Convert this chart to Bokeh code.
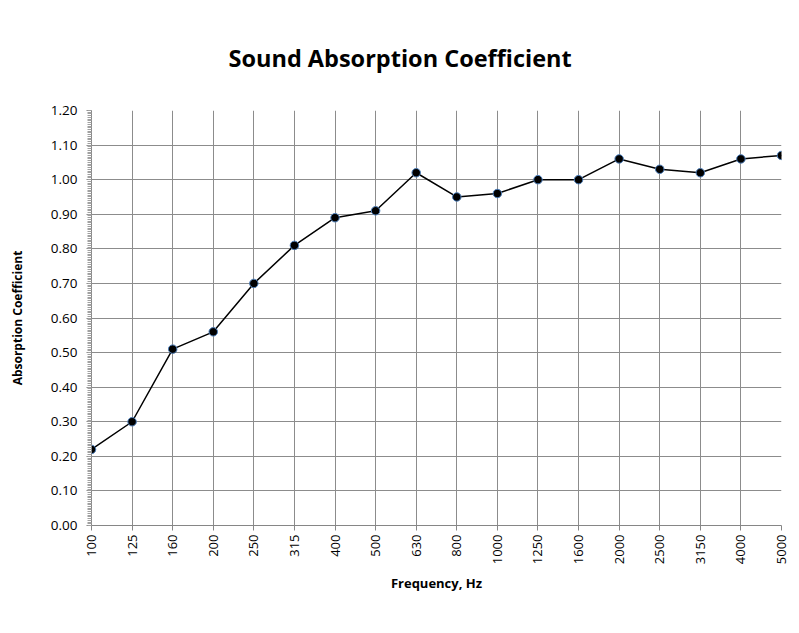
from bokeh.plotting import figure
from bokeh.models import Range1d, FixedTicker, ColumnDataSource, NumeralTickFormatter
from bokeh.embed import file_html
from bokeh.resources import INLINE
import math

frequencies = ["100", "125", "160", "200", "250", "315", "400", "500", "630", "800",
               "1000", "1250", "1600", "2000", "2500", "3150", "4000", "5000"]
coefficients = [0.22, 0.30, 0.51, 0.56, 0.70, 0.81, 0.89, 0.91, 1.02, 0.95,
                0.96, 1.00, 1.00, 1.06, 1.03, 1.02, 1.06, 1.07]
y_ticks = [0.0, 0.1, 0.2, 0.3, 0.4, 0.5, 0.6, 0.7, 0.8, 0.9, 1.0, 1.1, 1.2]

idx = list(range(len(frequencies)))
src = ColumnDataSource(dict(x=idx, y=coefficients))

FONT = "Open Sans"

p = figure(width=791, height=625, output_backend="svg", toolbar_location=None,
           x_range=Range1d(0, len(frequencies) - 1), y_range=Range1d(0, 1.2),
           title="Sound Absorption Coefficient",
           min_border_left=91, min_border_right=10, min_border_top=110, min_border_bottom=100)
p.outline_line_color = None
p.background_fill_color = "white"
p.border_fill_color = "white"

p.title.align = "left"
p.title.text_font = FONT
p.title.text_font_style = "bold"
p.title.text_font_size = "23.5px"
p.title.text_color = "black"
p.title.standoff = 74
p.title.offset = 137

p.line("x", "y", source=src, line_color="black", line_width=1.5)
p.scatter("x", "y", source=src, size=8.5, fill_color="black", line_color="#4f81bd", line_width=1)

xa = p.xaxis[0]
xa.ticker = FixedTicker(ticks=idx)
xa.major_label_overrides = {i: f for i, f in zip(idx, frequencies)}
xa.major_label_orientation = math.pi / 2
xa.major_label_text_font = FONT
xa.major_label_text_font_size = "13px"
xa.major_label_text_color = "black"
xa.major_label_standoff = 4
xa.axis_label = "Frequency, Hz"
xa.axis_label_text_font = FONT
xa.axis_label_text_font_style = "bold"
xa.axis_label_text_font_size = "13px"
xa.axis_label_text_color = "black"
xa.axis_label_standoff = 7
xa.axis_line_color = "#868686"
xa.major_tick_line_color = "#868686"
xa.major_tick_out = 5
xa.major_tick_in = 0
xa.minor_tick_line_color = None

ya = p.yaxis[0]
ya.ticker = FixedTicker(ticks=y_ticks, minor_ticks=[i * 0.005 for i in range(241)])
ya.formatter = NumeralTickFormatter(format="0.00")
ya.major_label_text_font = FONT
ya.major_label_text_font_size = "13.5px"
ya.major_label_text_color = "black"
ya.major_label_standoff = 9
ya.axis_label = "Absorption Coefficient"
ya.axis_label_text_font = FONT
ya.axis_label_text_font_style = "bold"
ya.axis_label_text_font_size = "12px"
ya.axis_label_text_color = "black"
ya.axis_label_standoff = 22
ya.axis_line_color = "#868686"
ya.major_tick_line_color = "#868686"
ya.major_tick_out = 5
ya.major_tick_in = 0
ya.minor_tick_line_color = "#a0a0a0"
ya.minor_tick_out = 4
ya.minor_tick_in = 0

p.xgrid.ticker = FixedTicker(ticks=idx)
p.ygrid.ticker = FixedTicker(ticks=y_ticks)
p.xgrid.grid_line_color = "#8c8c8c"
p.ygrid.grid_line_color = "#8c8c8c"

open("out.html", "w").write(file_html(p, INLINE))
